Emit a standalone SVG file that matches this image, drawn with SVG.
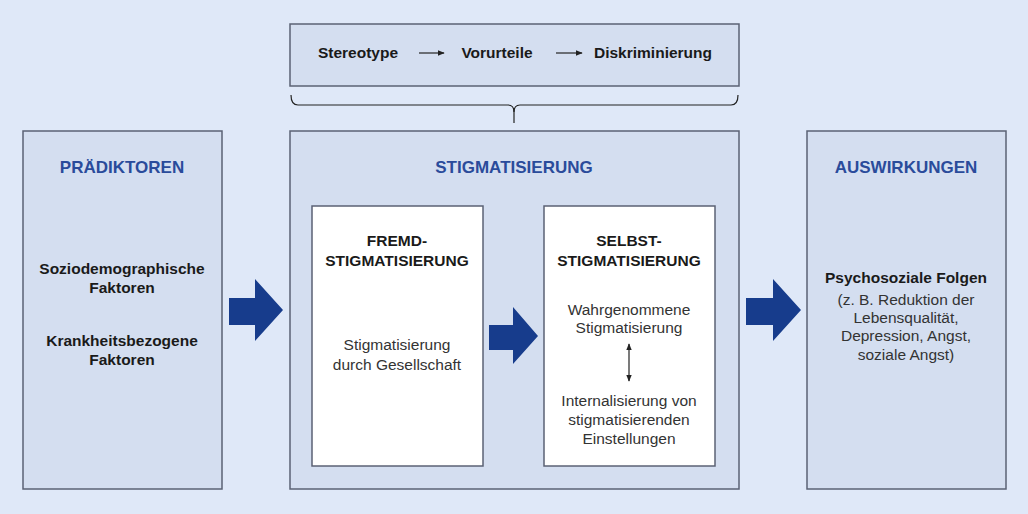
<svg xmlns="http://www.w3.org/2000/svg" width="1028" height="514" viewBox="0 0 1028 514">
<defs>
<style>
.box{fill:#d4def0;stroke:#5b6274;stroke-width:1.5}
.wbox{fill:#ffffff;stroke:#5b6274;stroke-width:1.5}
.t{font-family:"Liberation Sans",Arial,sans-serif;text-anchor:middle;fill:#1a1a1a}
.b{font-weight:bold;font-size:15.5px}
.r{font-size:15.5px;fill:#333}
.h{font-weight:bold;font-size:17px;fill:#2a4b9b}
.big{fill:#173c8c}
.ln{stroke:#222;stroke-width:1.2;fill:none}
</style>
<marker id="ah" viewBox="0 0 10 10" refX="9" refY="5" markerWidth="6" markerHeight="6" orient="auto-start-reverse">
<path d="M0,1 L10,5 L0,9 z" fill="#222"/>
</marker>
</defs>
<rect width="1028" height="514" fill="#dfe8f8"/>

<g id="top-box">
<rect class="box" x="290" y="24" width="449" height="62"/>
<text class="t b" x="358" y="58">Stereotype</text>
<text class="t b" x="497" y="58">Vorurteile</text>
<text class="t b" x="653" y="58">Diskriminierung</text>
</g>

<g id="praediktoren">
<rect class="box" x="23" y="131" width="199" height="358"/>
<text class="t h" x="122" y="173">PRÄDIKTOREN</text>
<text class="t b" x="122" y="274">Soziodemographische</text>
<text class="t b" x="122" y="293">Faktoren</text>
<text class="t b" x="122" y="346">Krankheitsbezogene</text>
<text class="t b" x="122" y="365">Faktoren</text>
</g>

<g id="stigmatisierung">
<rect class="box" x="290" y="131" width="449" height="358"/>
<text class="t h" x="514" y="173">STIGMATISIERUNG</text>
</g>

<g id="fremd">
<rect class="wbox" x="312" y="206" width="171" height="260"/>
<text class="t b" x="397" y="246">FREMD-</text>
<text class="t b" x="397" y="266">STIGMATISIERUNG</text>
<text class="t r" x="397" y="350">Stigmatisierung</text>
<text class="t r" x="397" y="370">durch Gesellschaft</text>
</g>

<g id="selbst">
<rect class="wbox" x="544" y="206" width="171" height="260"/>
<text class="t b" x="629" y="246">SELBST-</text>
<text class="t b" x="629" y="266">STIGMATISIERUNG</text>
<text class="t r" x="629" y="315">Wahrgenommene</text>
<text class="t r" x="629" y="333">Stigmatisierung</text>
<text class="t r" x="629" y="406">Internalisierung von</text>
<text class="t r" x="629" y="425">stigmatisierenden</text>
<text class="t r" x="629" y="444">Einstellungen</text>
</g>

<g id="auswirkungen">
<rect class="box" x="807" y="131" width="199" height="358"/>
<text class="t h" x="906" y="173">AUSWIRKUNGEN</text>
<text class="t b" x="906" y="283">Psychosoziale Folgen</text>
<text class="t r" x="906" y="305">(z. B. Reduktion der</text>
<text class="t r" x="906" y="323">Lebensqualität,</text>
<text class="t r" x="906" y="341">Depression, Angst,</text>
<text class="t r" x="906" y="360">soziale Angst)</text>
</g>

<g id="connectors">
<line class="ln" x1="419" y1="53" x2="444" y2="53" marker-end="url(#ah)"/>
<line class="ln" x1="556" y1="53" x2="582" y2="53" marker-end="url(#ah)"/>
<path class="ln" d="M291,95 Q291,105 298,105 L508,105 Q514,105 514,112 Q514,105 520,105 L731,105 Q738,105 738,95"/>
<line class="ln" x1="514" y1="108" x2="514" y2="123"/>
<line class="ln" x1="629" y1="344" x2="629" y2="381" marker-start="url(#ah)" marker-end="url(#ah)"/>
<path class="big" d="M229,298 L255,298 L255,279 L283,310 L255,341 L255,325 L229,325 z"/>
<path class="big" d="M489,325 L513,325 L513,307 L538,336 L513,364 L513,350 L489,350 z"/>
<path class="big" d="M746,298 L773,298 L773,279 L801,310 L773,341 L773,325 L746,325 z"/>
</g>
</svg>
